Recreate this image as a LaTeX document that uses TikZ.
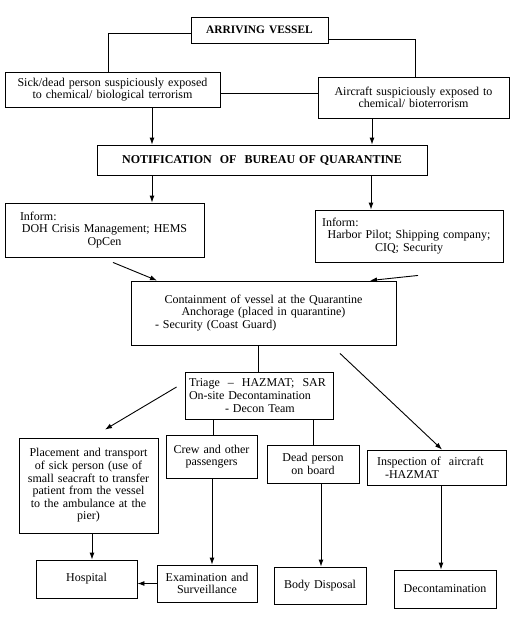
\documentclass[tikz,border=0pt]{standalone}
\usepackage{fontspec}
\setmainfont{Liberation Serif}
\usetikzlibrary{arrows.meta}

\tikzset{
  box/.style={draw, line width=0.9pt, align=center, inner sep=0pt,
    font=\fontsize{12}{12.6}\selectfont},
  boxl/.style={box, align=left},
  arr/.style={-{Latex[length=7pt,width=5pt]}, line width=0.9pt},
  link/.style={line width=0.9pt}
}

\begin{document}
\begin{tikzpicture}[x=1pt,y=-1pt]
\useasboundingbox (0,0) rectangle (532,623);

% Top of the chart
\node[box, minimum width=137pt, minimum height=26pt, text width=130pt]
  (vessel) at (259.5,30) {\fontsize{11.4}{12}\selectfont\textbf{ARRIVING VESSEL}};
\node[box, minimum width=215pt, minimum height=35pt, text width=208pt]
  (sick) at (112.5,89.5) {Sick/dead person suspiciously exposed\\to chemical/ biological terrorism};
\node[box, minimum width=191pt, minimum height=41pt, text width=184pt]
  (air) at (413.5,97.5) {Aircraft suspiciously exposed to\\chemical/ bioterrorism};
\node[box, minimum width=330pt, minimum height=30pt, text width=320pt]
  (note) at (262,160) {\textbf{NOTIFICATION~ OF~ BUREAU OF QUARANTINE}};

% Inform boxes
\node[box, minimum width=199pt, minimum height=54pt, text width=181pt]
  (infL) at (104.5,230) {\makebox[\hsize][l]{\hspace{6pt}Inform:}\\DOH Crisis Management; HEMS\\OpCen};
\node[box, minimum width=188pt, minimum height=52pt, text width=174pt]
  (infR) at (409,236) {\makebox[\hsize][l]{Inform:}\\Harbor Pilot; Shipping company;\\CIQ; Security};

% Containment and triage
\node[box, minimum width=265pt, minimum height=64pt, text width=245pt]
  (cont) at (263.5,313) {Containment of vessel at the Quarantine\\Anchorage (placed in quarantine)\\\makebox[\hsize][l]{\hspace{14pt}- Security (Coast Guard)}};
\node[boxl, minimum width=148pt, minimum height=47pt, text width=140pt]
  (triage) at (259,395.5) {Triage ~–~ HAZMAT;~ SAR\\On-site Decontamination\\\hspace*{36pt}- Decon Team};

% Second row
\node[box, minimum width=139pt, minimum height=95pt, text width=135pt]
  (place) at (88.5,485.5) {Placement and transport\\of sick person (use of\\small seacraft to transfer\\patient from the vessel\\to the ambulance at the\\pier)};
\node[box, minimum width=91pt, minimum height=43pt, text width=87pt]
  (crew) at (211.5,456.5) {Crew and other\\passengers};
\node[box, minimum width=92pt, minimum height=38pt, text width=88pt]
  (dead) at (313,464) {Dead person\\on board};
\node[boxl, minimum width=139pt, minimum height=35pt, text width=119pt]
  (insp) at (436.5,467.5) {Inspection of~ aircraft\\\hspace*{8pt}-HAZMAT};

% Bottom row
\node[box, minimum width=101pt, minimum height=38pt, text width=95pt]
  (hosp) at (86.5,579) {Hospital};
\node[box, minimum width=100pt, minimum height=37pt, text width=96pt]
  (exam) at (207,583.5) {Examination and\\Surveillance};
\node[box, minimum width=92pt, minimum height=37pt, text width=88pt]
  (body) at (320,585.5) {Body Disposal};
\node[box, minimum width=102pt, minimum height=38pt, text width=98pt]
  (decon) at (445,589) {Decontamination};

% Lines without heads
\draw[link] ([yshift=-3pt]vessel.west) -| ([xshift=-4.5pt]sick.north);
\draw[link] ([yshift=-9pt]vessel.east) -| ([xshift=1.5pt]air.north);
\draw[link] ([yshift=-3.5pt]sick.east) -- ([yshift=-3.5pt]sick.east -| air.west);
\draw[link] ([xshift=-5.5pt]cont.south) -- ([xshift=-5.5pt]cont.south |- triage.north);
\draw[link] ([xshift=-46pt]triage.south) -- ([xshift=-46pt]triage.south |- crew.north);
\draw[link] ([xshift=54pt]triage.south) -- ([xshift=54pt]triage.south |- dead.north);

% Arrows
\draw[arr] ([xshift=39.5pt]sick.south) -- ([xshift=39.5pt]sick.south |- note.north);
\draw[arr] ([xshift=-41.5pt]air.south) -- ([xshift=-41.5pt]air.south |- note.north);
\draw[arr] ([xshift=-110pt]note.south) -- ([xshift=-110pt]note.south |- infL.north);
\draw[arr] ([xshift=109pt]note.south) -- ([xshift=109pt]note.south |- infR.north);
\draw[arr] ([xshift=8.5pt,yshift=-5pt]infL.south) -- ([xshift=-106.5pt]cont.north);
\draw[arr] ([xshift=9pt,yshift=-13pt]infR.south) -- ([xshift=106.5pt]cont.north);
\draw[arr] ([xshift=76.5pt,yshift=-8pt]cont.south) -- ([xshift=5.5pt]insp.north);
\draw[arr] ([xshift=-8pt,yshift=8.5pt]triage.west) -- ([xshift=16.5pt,yshift=8pt]place.north);
\draw[arr] ([xshift=3.5pt]place.south) -- ([xshift=3.5pt]place.south |- hosp.north);
\draw[arr] ([xshift=0.5pt]crew.south) -- ([xshift=0.5pt]crew.south |- exam.north);
\draw[arr] ([xshift=8pt]dead.south) -- ([xshift=8pt]dead.south |- body.north);
\draw[arr] ([xshift=4.5pt]insp.south) -- ([xshift=4.5pt]insp.south |- decon.north);
\draw[arr] (exam.west) -- (exam.west -| hosp.east);

\end{tikzpicture}
\end{document}
